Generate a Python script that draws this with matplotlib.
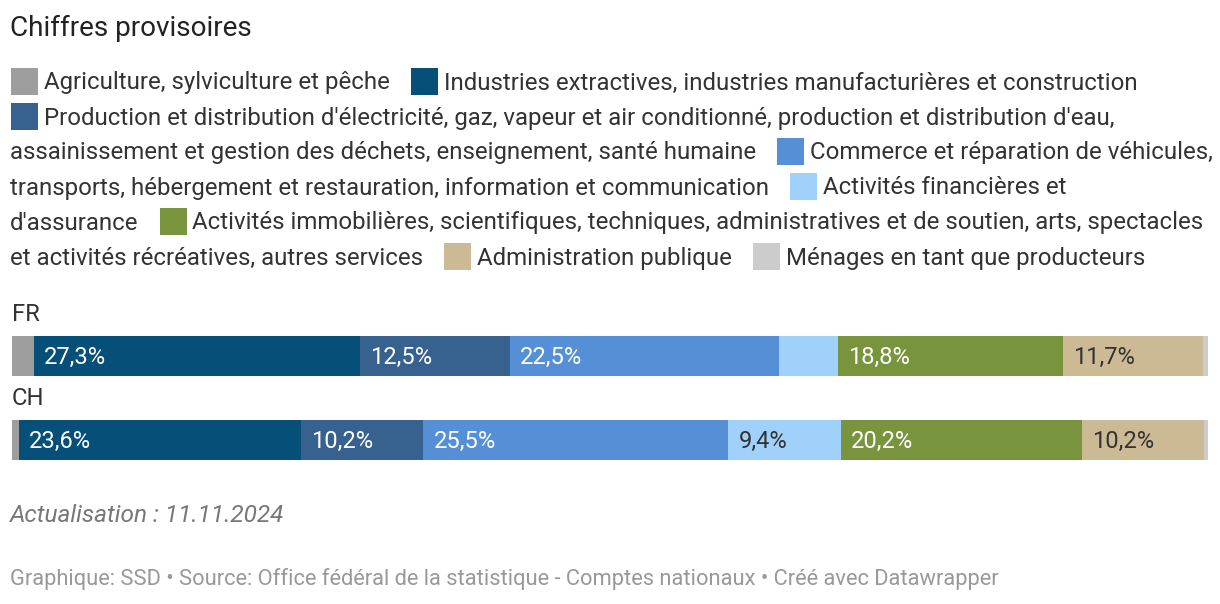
import matplotlib
matplotlib.use("Agg")
import matplotlib.pyplot as plt
from matplotlib.patches import Rectangle
from matplotlib.transforms import Affine2D
from matplotlib.font_manager import FontProperties

W, H, DPI = 1220, 604, 100

# ---------------- data ----------------
title = "Chiffres provisoires"
countries = ["FR", "CH"]
categories = [
    "Agriculture, sylviculture et pêche",
    "Industries extractives, industries manufacturières et construction",
    "Production et distribution d'électricité, gaz, vapeur et air conditionné, "
    "production et distribution d'eau, assainissement et gestion des déchets, "
    "enseignement, santé humaine",
    "Commerce et réparation de véhicules, transports, hébergement et restauration, "
    "information et communication",
    "Activités financières et d'assurance",
    "Activités immobilières, scientifiques, techniques, administratives et de soutien, "
    "arts, spectacles et activités récréatives, autres services",
    "Administration publique",
    "Ménages en tant que producteurs",
]
fr_values = [1.8, 27.3, 12.5, 22.5, 5.0, 18.8, 11.7, 0.4]
ch_values = [0.6, 23.6, 10.2, 25.5, 9.4, 20.2, 10.2, 0.3]
colors = ["#9e9e9e", "#054f78", "#37618f", "#5590d6", "#a0d1fa",
          "#78943c", "#cbba93", "#cccccc"]
label_colors = ["#333333", "#ffffff", "#ffffff", "#ffffff", "#333333",
                "#ffffff", "#333333", "#333333"]
footer_note = "Actualisation : 11.11.2024"
source = ("Graphique: SSD • Source: Office fédéral de la statistique - "
          "Comptes nationaux • Créé avec Datawrapper")

FONT = "Roboto"
def px(p):  # pixel size -> points
    return p * 72.0 / DPI

fig = plt.figure(figsize=(W / DPI, H / DPI), dpi=DPI)
fig.patch.set_facecolor("white")
# transform: x right, y down in pixels from top-left
T = Affine2D().scale(1, -1).translate(0, H)
renderer = fig.canvas.get_renderer()

def tw(s, size, style="normal"):
    fp = FontProperties(family=FONT, size=px(size), style=style)
    w, h, d = renderer.get_text_width_height_descent(s, fp, ismath=False)
    return w

def ftext(x, y, s, size, color="#333333", style="normal", **kw):
    return fig.text(x, y, s, transform=T, fontsize=px(size), color=color,
                    family=FONT, style=style, va="baseline", ha="left", **kw)

# ---------------- title ----------------
ftext(10, 36, title, 27.9, color="#222222")

# ---------------- legend (flow layout) ----------------
LEG_SIZE = 23.95
LEFT, MAXW = 10, 1214
SW, SG, IG = 27, 7, 20
LINE0, LINE_H = 81.5, 35.0
FORCED = {(4, 3)}
x = LEFT
line = 0
for idx, (lab, col) in enumerate(zip(categories, colors)):
    words = lab.split(" ")
    if x > LEFT:
        x += IG
    if x + SW + SG + tw(words[0], LEG_SIZE) > MAXW:
        line += 1
        x = LEFT
    cy = LINE0 + LINE_H * line
    fig.add_artist(Rectangle((x + 1, cy - SW / 2), SW, SW, transform=T,
                             facecolor=col, edgecolor="none"))
    x += SW + SG
    run, run_x = "", x
    for wi, word in enumerate(words):
        cand = word if run == "" else run + " " + word
        if run != "" and ((idx, wi) in FORCED or run_x + tw(cand, LEG_SIZE) > MAXW):
            ftext(run_x, LINE0 + LINE_H * line + 8, run, LEG_SIZE)
            line += 1
            run_x, run = LEFT, word
        else:
            run = cand
    ftext(run_x, LINE0 + LINE_H * line + 8, run, LEG_SIZE)
    x = run_x + tw(run, LEG_SIZE)

# ---------------- bars ----------------
BAR_TOP, BAR_BOT = 336, 460
ax = fig.add_axes([12 / W, 1 - BAR_BOT / H, 1196 / W, (BAR_BOT - BAR_TOP) / H])
bar_h = 40 / 84
ax.set_xlim(0, 100)
ax.set_ylim(1 + bar_h / 2, -bar_h / 2)
ax.axis("off")
for row, vals in enumerate([fr_values, ch_values]):
    left = 0.0
    for k, v in enumerate(vals):
        ax.barh(row, v, left=left, height=bar_h, color=colors[k], linewidth=0)
        if v >= 8:
            ax.annotate(f"{v:.1f}%".replace(".", ","), xy=(left, row),
                        xytext=(px(10), px(-8)), textcoords="offset points",
                        ha="left", va="baseline", fontsize=px(23.8),
                        color=label_colors[k], family=FONT)
        left += v

for row, c in enumerate(countries):
    ftext(12, 321 + 84 * row, c, 23.8, color="#333333")

# ---------------- footer ----------------
ftext(10, 522, footer_note, 24.4, color="#777777", style="italic")
ftext(10, 585, source, 21.9, color="#999999")

fig.savefig("out.png", dpi=DPI, facecolor="white")
